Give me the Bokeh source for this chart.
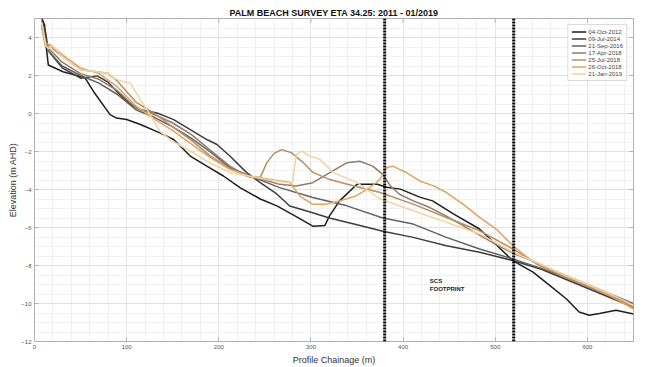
import math
from bokeh.plotting import figure
from bokeh.models import Range1d, FixedTicker, Span, Legend, LegendItem, Label
from bokeh.embed import file_html
from bokeh.resources import INLINE

# ---- data ----
title_text = "PALM BEACH SURVEY ETA 34.25: 2011 - 01/2019"
x_label = "Profile Chainage (m)"
y_label = "Elevation (m AHD)"
x_ticks = [0, 100, 200, 300, 400, 500, 600]
y_ticks = [-12, -10, -8, -6, -4, -2, 0, 2, 4]
x_min, x_max = 0, 650
y_min, y_max = -12, 5
footprint_bounds = [380, 520]
footprint_text = ["SCS", "FOOTPRINT"]

survey_dates = ["04-Oct-2012", "09-Jul-2014", "21-Sep-2016", "17-Apr-2018",
                "25-Jul-2018", "26-Oct-2018", "21-Jan-2019"]
survey_colors = ["#1e1e1e", "#3d3d3d", "#616161", "#8a7d70",
                 "#b58e62", "#e2a35c", "#f3d2a2"]

x_2012 = [8, 11, 13, 15, 31, 50, 55, 64, 82, 89, 100, 115, 136, 151, 169, 187, 205, 223, 245, 263,
          285, 302, 315, 320, 331, 350, 372, 382, 397, 418, 432, 455, 483, 519, 541, 559, 577, 591,
          602, 613, 631, 650]
y_2012 = [5.0, 4.65, 3.4, 2.55, 2.2, 1.94, 1.86, 1.16, -0.06, -0.24, -0.32, -0.58, -1.02, -1.37,
          -2.24, -2.77, -3.29, -3.9, -4.5, -4.86, -5.45, -5.93, -5.9, -5.4, -4.6, -3.72, -3.72,
          -3.88, -3.98, -4.4, -4.6, -5.3, -6.08, -7.74, -8.35, -9.05, -9.75, -10.45, -10.62, -10.53,
          -10.36, -10.55]

x_2014 = [8, 12, 15, 30, 50, 68, 79, 93, 104, 115, 133, 151, 169, 187, 198, 212, 230, 245, 262,
          277, 300, 320, 350, 378, 411, 447, 483, 519, 550, 575, 600, 625, 650]
y_2014 = [4.9, 4.3, 3.3, 2.4, 1.86, 1.98, 1.68, 0.98, 0.5, 0.2, 0.03, -0.32, -0.85, -1.37, -1.63,
          -2.24, -3.1, -3.64, -4.2, -4.87, -5.2, -5.5, -5.85, -6.2, -6.52, -6.96, -7.3, -7.74,
          -8.2, -8.7, -9.2, -9.7, -10.2]

x_2016 = [8, 12, 15, 30, 50, 70, 90, 110, 130, 150, 170, 190, 212, 234, 266, 302, 339, 378, 411,
          447, 483, 519, 550, 575, 600, 625, 650]
y_2016 = [4.7, 3.9, 3.3, 2.5, 2.0, 1.6, 1.0, 0.2, -0.2, -0.7, -1.3, -2.0, -2.85, -3.29, -3.9,
          -4.42, -4.86, -5.5, -5.82, -6.52, -7.13, -7.65, -8.15, -8.6, -9.1, -9.6, -10.05]

x_2018a = [8, 12, 16, 30, 50, 70, 90, 110, 130, 150, 170, 190, 212, 230, 248, 266, 284, 302, 320,
           339, 353, 367, 378, 386, 396, 411, 429, 447, 465, 483, 501, 519, 540, 560, 580, 600,
           625, 650]
y_2018a = [4.6, 3.6, 3.4, 2.7, 2.1, 1.8, 1.2, 0.3, -0.05, -0.5, -1.1, -1.9, -2.77, -3.29, -3.47,
           -3.73, -3.81, -3.64, -3.12, -2.59, -2.51, -2.77, -3.2, -3.8, -4.25, -4.6, -4.95, -5.4,
           -5.9, -6.4, -6.9, -7.35, -7.75, -8.2, -8.6, -9.0, -9.5, -10.0]

x_2018b = [8, 12, 17, 20, 30, 50, 68, 80, 90, 110, 130, 150, 170, 190, 212, 234, 245, 252, 260,
           268, 279, 292, 302, 320, 350, 375, 411, 447, 483, 519, 548, 575, 600, 625, 650]
y_2018b = [4.5, 3.5, 3.6, 3.4, 3.0, 2.3, 2.2, 2.1, 1.7, 0.6, 0.0, -0.7, -1.4, -2.2, -2.9, -3.35,
           -3.36, -2.6, -2.1, -1.9, -2.07, -2.6, -3.1, -3.47, -3.85, -4.16, -4.77, -5.47, -6.17,
           -7.13, -8.0, -8.6, -9.1, -9.6, -10.2]

x_2018c = [8, 12, 18, 30, 50, 70, 90, 110, 130, 150, 170, 190, 212, 234, 260, 277, 288, 302, 317,
           331, 349, 364, 375, 382, 389, 396, 404, 418, 433, 447, 465, 483, 501, 519, 537, 555,
           575, 600, 625, 650]
y_2018c = [4.7, 3.7, 3.6, 3.1, 2.4, 2.1, 1.4, 0.4, -0.3, -0.9, -1.6, -2.3, -2.94, -3.3, -3.5,
           -3.62, -4.35, -4.78, -4.77, -4.6, -4.34, -3.9, -3.46, -2.85, -2.77, -2.94, -3.12, -3.55,
           -3.81, -4.16, -4.77, -5.47, -6.08, -6.96, -7.65, -8.1, -8.5, -9.0, -9.6, -10.3]

x_2019 = [8, 12, 15, 19, 30, 50, 68, 80, 86, 96, 104, 115, 122, 129, 136, 143, 150, 170, 190, 212,
          234, 255, 270, 280, 284, 290, 299, 310, 324, 350, 375, 411, 447, 483, 519, 550, 575,
          600, 625, 650]
y_2019 = [4.8, 3.6, 3.4, 3.6, 3.0, 2.3, 2.2, 2.12, 1.86, 1.68, 1.6, 0.72, 0.2, -0.33, -0.94, -1.2,
          -1.46, -2.0, -2.6, -3.1, -3.3, -3.5, -3.6, -3.62, -2.16, -1.98, -2.25, -2.42, -3.1, -3.64,
          -4.5, -5.12, -5.73, -6.34, -7.3, -7.95, -8.5, -9.0, -9.5, -10.1]

series_x = [x_2012, x_2014, x_2016, x_2018a, x_2018b, x_2018c, x_2019]
series_y = [y_2012, y_2014, y_2016, y_2018a, y_2018b, y_2018c, y_2019]

# ---- figure ----
FONT = "Liberation Sans"
AX = "#b0b0b0"
p = figure(width=654, height=367, output_backend="svg", toolbar_location=None,
           x_range=Range1d(x_min, x_max), y_range=Range1d(y_min, y_max),
           min_border_left=34, min_border_right=21, min_border_top=18, min_border_bottom=24)
p.background_fill_color = "white"
p.border_fill_color = "white"
p.outline_line_color = AX

p.title.text = title_text
p.title.align = "center"
p.title.text_font = FONT
p.title.text_font_size = "9px"
p.title.text_font_style = "bold"
p.title.text_color = "#111111"
p.title.standoff = 1
p.title.offset = 0

for ax in [p.xaxis[0], p.yaxis[0]]:
    ax.major_label_text_font = FONT
    ax.major_label_text_font_size = "6px"
    ax.major_label_text_color = "#555555"
    ax.axis_label_text_font = FONT
    ax.axis_label_text_font_size = "9px"
    ax.axis_label_text_font_style = "normal"
    ax.axis_label_text_color = "#333333"
    ax.axis_line_color = AX
    ax.major_tick_line_color = AX
    ax.major_tick_in = 4
    ax.major_tick_out = 0
    ax.minor_tick_in = 0
    ax.minor_tick_out = 0
    ax.major_label_standoff = 3

p.xaxis[0].axis_label_standoff = 3
p.yaxis[0].axis_label_standoff = 0
p.xaxis[0].axis_label = x_label
p.yaxis[0].axis_label = y_label
p.xaxis[0].ticker = FixedTicker(ticks=x_ticks, minor_ticks=list(range(0, 651, 20)))
p.yaxis[0].ticker = FixedTicker(ticks=y_ticks, minor_ticks=[v / 2 for v in range(-24, 11)])

p.xgrid.grid_line_color = "#e2e2e2"
p.ygrid.grid_line_color = "#e2e2e2"
p.xgrid.minor_grid_line_color = "#f1f1f1"
p.ygrid.minor_grid_line_color = "#f1f1f1"

# box ticks on the top and right edges (half of each dash is clipped by the frame)
p.scatter([x_max] * len(y_ticks), y_ticks, marker="dash", size=8, line_color=AX, line_width=1)
p.scatter(x_ticks, [y_max] * len(x_ticks), marker="dash", size=8, angle=math.pi / 2,
          line_color=AX, line_width=1)

items = []
for xs, ys, c, d in zip(series_x, series_y, survey_colors, survey_dates):
    r = p.line(xs, ys, line_color=c, line_width=1.5)
    items.append(LegendItem(label=d, renderers=[r]))

for loc in footprint_bounds:
    p.add_layout(Span(location=loc, dimension="height", line_color="black",
                      line_width=3, line_dash="2 1"))

p.add_layout(Label(x=429, y=-8.8, text=footprint_text[0], text_font=FONT, text_font_size="6px",
                   text_font_style="bold", text_baseline="middle", text_color="#222222"))
p.add_layout(Label(x=429, y=-9.25, text=footprint_text[1], text_font=FONT, text_font_size="6px",
                   text_font_style="bold", text_baseline="middle", text_color="#222222"))

legend = Legend(items=items, location="top_right")
legend.label_text_font = FONT
legend.label_text_font_size = "6px"
legend.label_text_color = "#444444"
legend.glyph_width = 15
legend.glyph_height = 7
legend.label_height = 7
legend.label_standoff = 2
legend.spacing = 0
legend.padding = 3
legend.margin = 6
legend.border_line_color = "#b8b8b8"
legend.background_fill_alpha = 1.0
p.add_layout(legend)

open("out.html", "w").write(file_html(p, INLINE))
